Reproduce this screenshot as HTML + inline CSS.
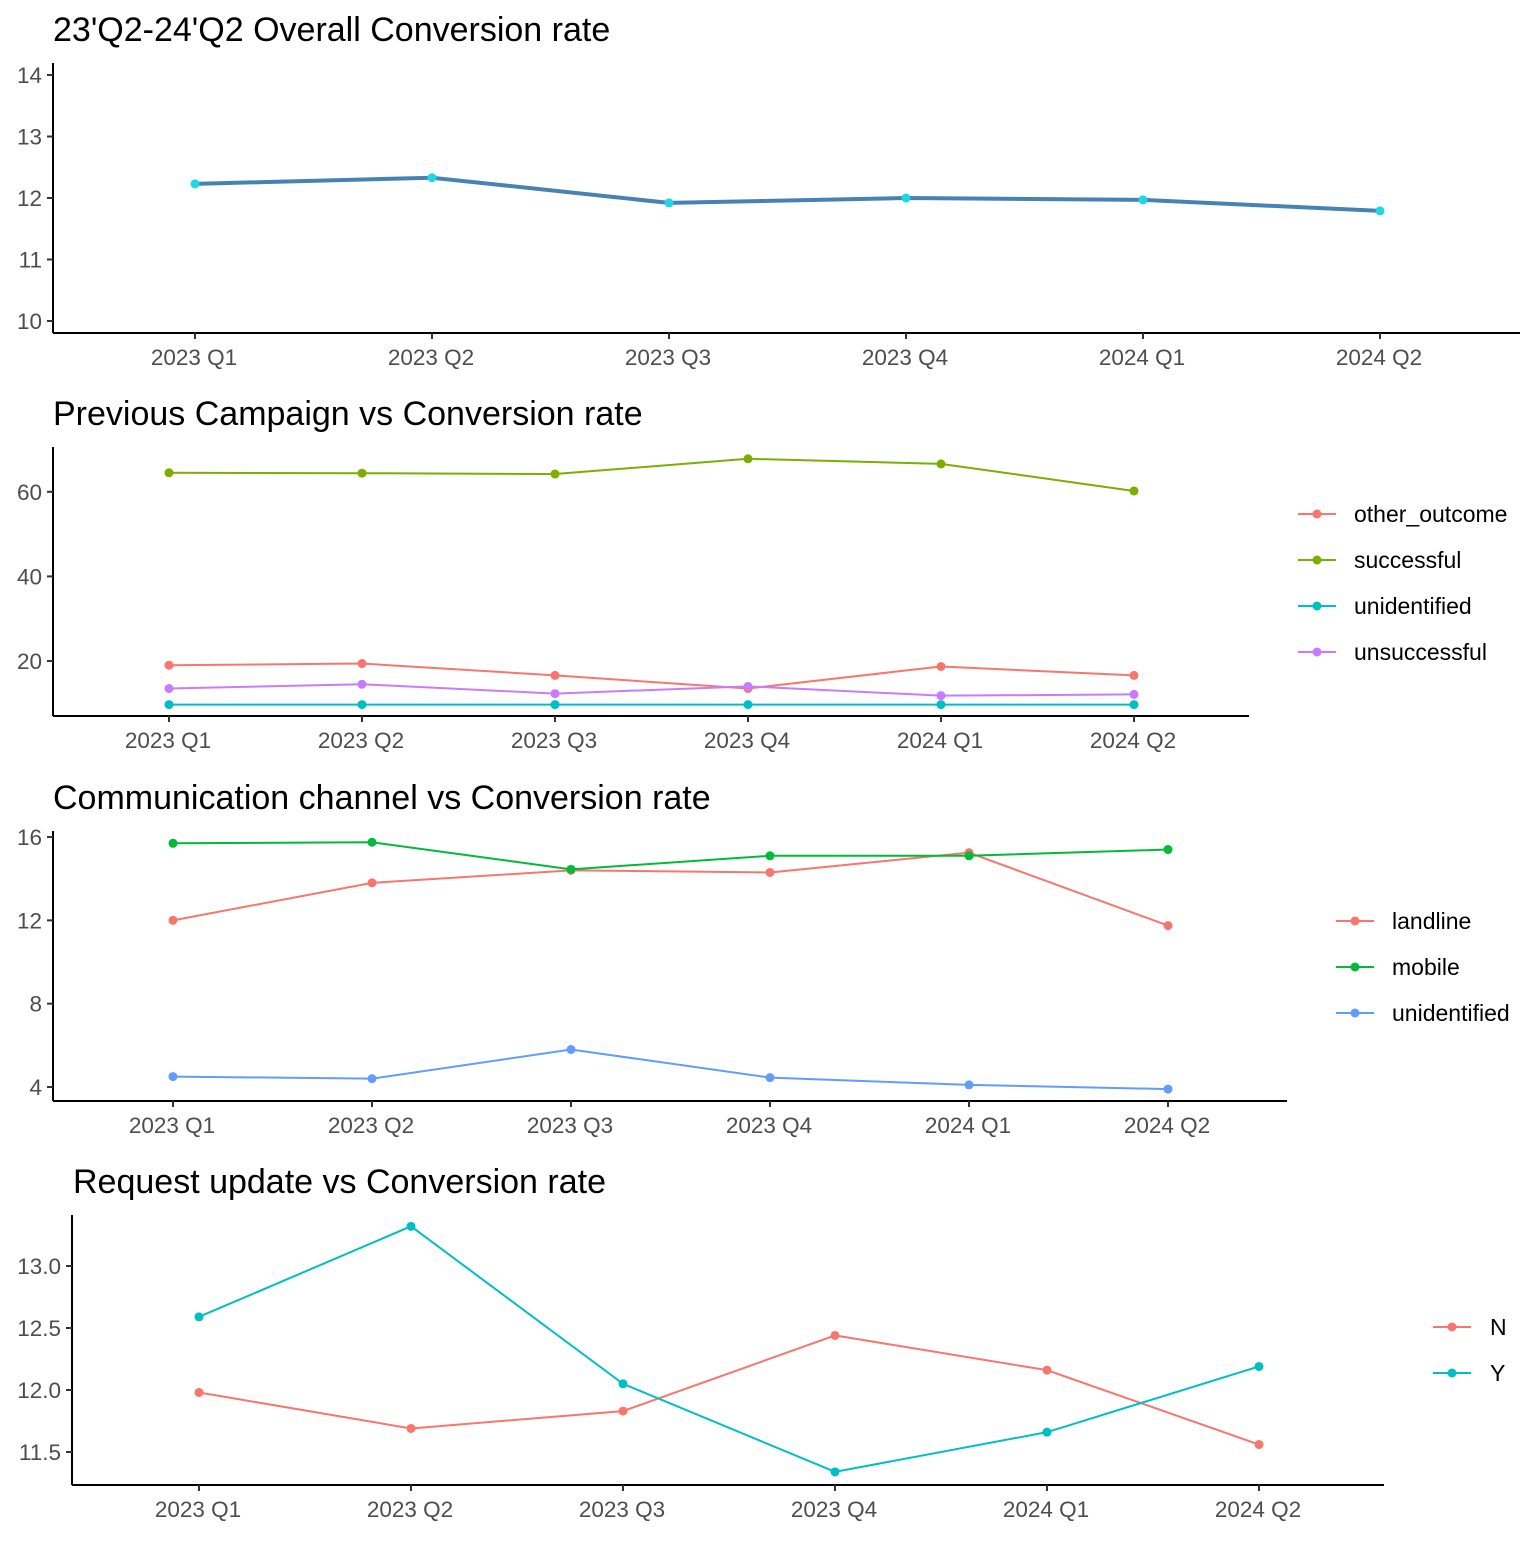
<!DOCTYPE html>
<html><head><meta charset="utf-8"><style>
body{margin:0;background:#fff}
svg text{font-family:"Liberation Sans",Arial,sans-serif}
</style></head><body>
<svg id="c" width="1536" height="1536" xmlns="http://www.w3.org/2000/svg"></svg>
<script>
const quarters=["2023 Q1","2023 Q2","2023 Q3","2023 Q4","2024 Q1","2024 Q2"];
const overallValues=[12.23,12.33,11.92,12.0,11.97,11.79];
const overallTicks=[10,11,12,13,14];
const campaignSeries=["other_outcome","successful","unidentified","unsuccessful"];
const campaignOther=[19.0,19.4,16.6,13.5,18.7,16.6];
const campaignSuccessful=[64.5,64.4,64.2,67.8,66.6,60.2];
const campaignUnidentified=[9.7,9.7,9.7,9.7,9.7,9.7];
const campaignUnsuccessful=[13.5,14.5,12.3,14.0,11.8,12.1];
const campaignTicks=[20,40,60];
const channelSeries=["landline","mobile","unidentified"];
const channelLandline=[12.0,13.8,14.4,14.3,15.25,11.75];
const channelMobile=[15.7,15.75,14.45,15.1,15.1,15.4];
const channelUnidentified=[4.5,4.4,5.8,4.45,4.1,3.9];
const channelTicks=[4,8,12,16];
const requestSeries=["N","Y"];
const requestN=[11.98,11.69,11.83,12.44,12.16,11.56];
const requestY=[12.59,13.32,12.05,11.34,11.66,12.19];
const requestTicks=[11.5,12.0,12.5,13.0];

const svg=document.getElementById('c');
const NS="http://www.w3.org/2000/svg";
function mk(tag,attrs,parent){const e=document.createElementNS(NS,tag);for(const k in attrs)e.setAttribute(k,attrs[k]);(parent||svg).appendChild(e);return e;}

function panel(o){
  const g=mk('g',{});
  
  
  const t=mk('text',{x:o.titleX,y:o.titleY,'font-size':34,fill:'#000'},g);t.textContent=o.title;
  
  
  const y=v=>o.y0px+(v-o.y0v)*o.ypu;
  const x=i=>o.xs[0]+i*(o.xs[1]-o.xs[0]);
  const ya=mk('line',{x1:o.left,y1:o.top,x2:o.left,y2:o.bottom,stroke:'#000','stroke-width':2},g);
  
  
  const xa=mk('line',{x1:o.left,y1:o.bottom,x2:o.right,y2:o.bottom,stroke:'#000','stroke-width':2},g);
  
  
  o.ticks.forEach(v=>{
    mk('line',{x1:o.left-6,x2:o.left,y1:y(v),y2:y(v),stroke:'#333','stroke-width':2},g);
    const tl=mk('text',{x:o.left-11,y:y(v)+8,'font-size':22.5,fill:'#4d4d4d','text-anchor':'end'},g);
    tl.textContent=o.tickFmt?v.toFixed(1):v;
    
    
  });
  quarters.forEach((q,i)=>{
    mk('line',{x1:x(i),x2:x(i),y1:o.bottom,y2:o.bottom+6,stroke:'#333','stroke-width':2},g);
    const tl=mk('text',{x:x(i)-1,y:o.bottom+32,'font-size':22.5,fill:'#4d4d4d','text-anchor':'middle'},g);
    tl.textContent=q;
    
    
  });
  o.series.forEach((s,si)=>{
    const pts=s.vals.map((v,i)=>x(i)+','+y(v)).join(' ');
    const pl=mk('polyline',{points:pts,fill:'none',stroke:s.line||s.color,'stroke-width':s.w||2},g);
    
    
    s.vals.forEach((v,i)=>{
      const c=mk('circle',{cx:x(i),cy:y(v),r:4.5,fill:s.color},g);
      
      
    });
    if(o.legend){
      const ly=o.legend.y+si*46;
      const lg=mk('g',{},g);
      
      
      mk('line',{x1:o.legend.x,x2:o.legend.x+38,y1:ly,y2:ly,stroke:s.color,'stroke-width':2},lg);
      mk('circle',{cx:o.legend.x+19,cy:ly,r:4.5,fill:s.color},lg);
      const lt=mk('text',{x:o.legend.tx,y:ly+8,'font-size':23,fill:'#000'},lg);lt.textContent=s.label;
    }
  });
}
panel({name:'overall-panel',title:"23'Q2-24'Q2 Overall Conversion rate",titleX:53,titleY:41,
  left:53,right:1520,top:63,bottom:333,xs:[195,432],y0v:10,y0px:321,ypu:-61.5,ticks:overallTicks,
  series:[{label:'overall',vals:overallValues,color:'#1fd6e6',line:'#4682B4',w:4}]});
panel({name:'campaign-panel',title:"Previous Campaign vs Conversion rate",titleX:53,titleY:425,
  left:53,right:1249,top:447,bottom:716,xs:[169,362],y0v:20,y0px:661,ypu:-4.23,ticks:campaignTicks,
  legend:{x:1298,tx:1354,y:514},
  series:[{label:campaignSeries[0],vals:campaignOther,color:'#F8766D'},
          {label:campaignSeries[1],vals:campaignSuccessful,color:'#7CAE00'},
          {label:campaignSeries[2],vals:campaignUnidentified,color:'#00BFC4'},
          {label:campaignSeries[3],vals:campaignUnsuccessful,color:'#C77CFF'}]});
panel({name:'channel-panel',title:"Communication channel vs Conversion rate",titleX:53,titleY:809,
  left:53,right:1287,top:831,bottom:1101,xs:[173,372],y0v:4,y0px:1087,ypu:-20.83,ticks:channelTicks,
  legend:{x:1336,tx:1392,y:921},
  series:[{label:channelSeries[0],vals:channelLandline,color:'#F8766D'},
          {label:channelSeries[1],vals:channelMobile,color:'#00BA38'},
          {label:channelSeries[2],vals:channelUnidentified,color:'#619CFF'}]});
panel({name:'request-panel',title:"Request update vs Conversion rate",titleX:73,titleY:1193,tickFmt:true,
  left:72,right:1384,top:1215,bottom:1485,xs:[199,411],y0v:12,y0px:1390,ypu:-124,ticks:requestTicks,
  legend:{x:1433,tx:1490,y:1327},
  series:[{label:requestSeries[0],vals:requestN,color:'#F8766D'},
          {label:requestSeries[1],vals:requestY,color:'#00BFC4'}]});
</script>
</body></html>
